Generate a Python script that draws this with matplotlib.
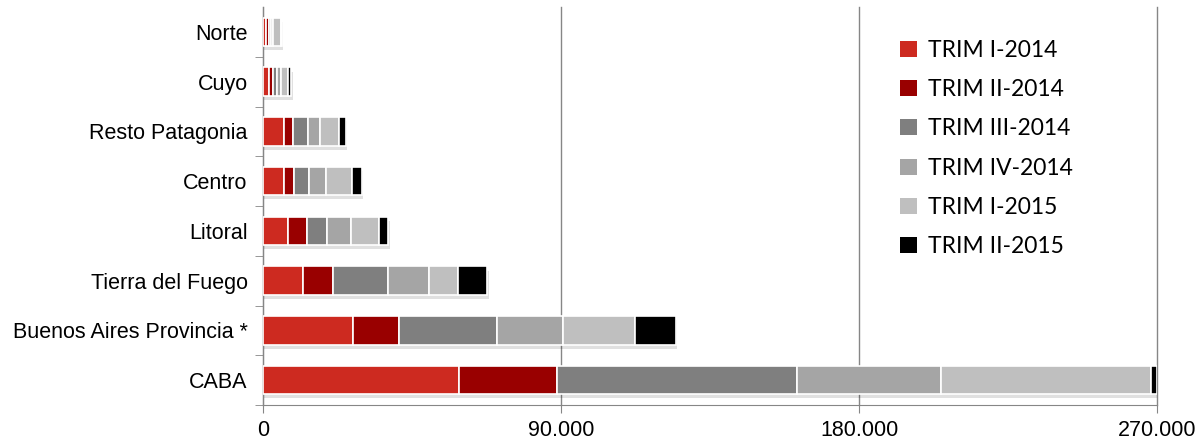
import matplotlib
matplotlib.use("Agg")
import matplotlib.pyplot as plt
import matplotlib.patheffects as pe
import numpy as np

plt.rcParams['font.family'] = ['Liberation Sans', 'DejaVu Sans']

regiones = ["CABA", "Buenos Aires Provincia *", "Tierra del Fuego", "Litoral",
            "Centro", "Resto Patagonia", "Cuyo", "Norte"]
trimestres = ["TRIM I-2014", "TRIM II-2014", "TRIM III-2014",
              "TRIM IV-2014", "TRIM I-2015", "TRIM II-2015"]
colores = ["#CD2A20", "#990000", "#7F7F7F", "#A5A5A5", "#BFBFBF", "#000000"]

# values per quarter, same order as regiones
trim_1_2014 = [59200, 27100, 12000, 7600, 6400, 6300, 1800, 1000]
trim_2_2014 = [29500, 13900, 9200, 5800, 3000, 2700, 1200, 800]
trim_3_2014 = [72500, 29600, 16600, 5800, 4400, 4600, 1200, 600]
trim_4_2014 = [43500, 20000, 12300, 7300, 5200, 3500, 1200, 600]
trim_1_2015 = [63500, 21700, 8900, 8500, 7800, 5900, 2200, 2300]
trim_2_2015 = [1900, 12300, 8700, 2800, 3000, 2100, 900, 300]
series = [trim_1_2014, trim_2_2014, trim_3_2014, trim_4_2014, trim_1_2015, trim_2_2015]

fig = plt.figure(figsize=(12.04, 4.41), dpi=100)
ax = fig.add_axes([263/1204, 1 - 405/441, (1157 - 263)/1204, (405 - 7)/441])

y = np.arange(len(regiones))
left = np.zeros(len(regiones))
shadow = [pe.SimplePatchShadow(offset=(1, -3), shadow_rgbFace="#000000", alpha=0.12), pe.Normal()]
for vals, lab, col in zip(series, trimestres, colores):
    bars = ax.barh(y, vals, left=left, height=0.57, color=col, edgecolor="white",
                   linewidth=1.2, label=lab, zorder=3)
    for b in bars:
        b.set_path_effects(shadow)
    left += np.array(vals)

ax.set_xlim(0, 270000)
ax.set_ylim(-0.5, len(regiones) - 0.5)
ax.set_xticks([0, 90000, 180000, 270000])
ax.set_xticklabels(["0", "90.000", "180.000", "270.000"], fontsize=15.5)
ax.set_yticks(y)
ax.set_yticklabels(regiones, fontsize=15.5)
ax.set_yticks(np.arange(-0.5, len(regiones) - 1, 1), minor=True)
ax.tick_params(axis="y", which="major", length=0, pad=11)
ax.tick_params(axis="y", which="minor", length=6, color="#868686")
ax.tick_params(axis="x", length=6, color="#868686", pad=5)
ax.grid(axis="x", color="#868686", linewidth=1, zorder=0)
for gl in ax.get_xgridlines():
    gl.set_clip_on(False)

for s in ["top", "right"]:
    ax.spines[s].set_visible(False)
for s in ["left", "bottom"]:
    ax.spines[s].set_color("#868686")

leg = ax.legend(loc="upper left", bbox_to_anchor=(0.69, 0.97), frameon=False,
                prop={"family": "Lato", "size": 16.5},
                handlelength=0.7, handleheight=0.7, labelspacing=0.8, handletextpad=0.5)
for h in leg.legend_handles:
    h.set_path_effects([])
    h.set_edgecolor("none")

fig.savefig("out.png", dpi=100)
